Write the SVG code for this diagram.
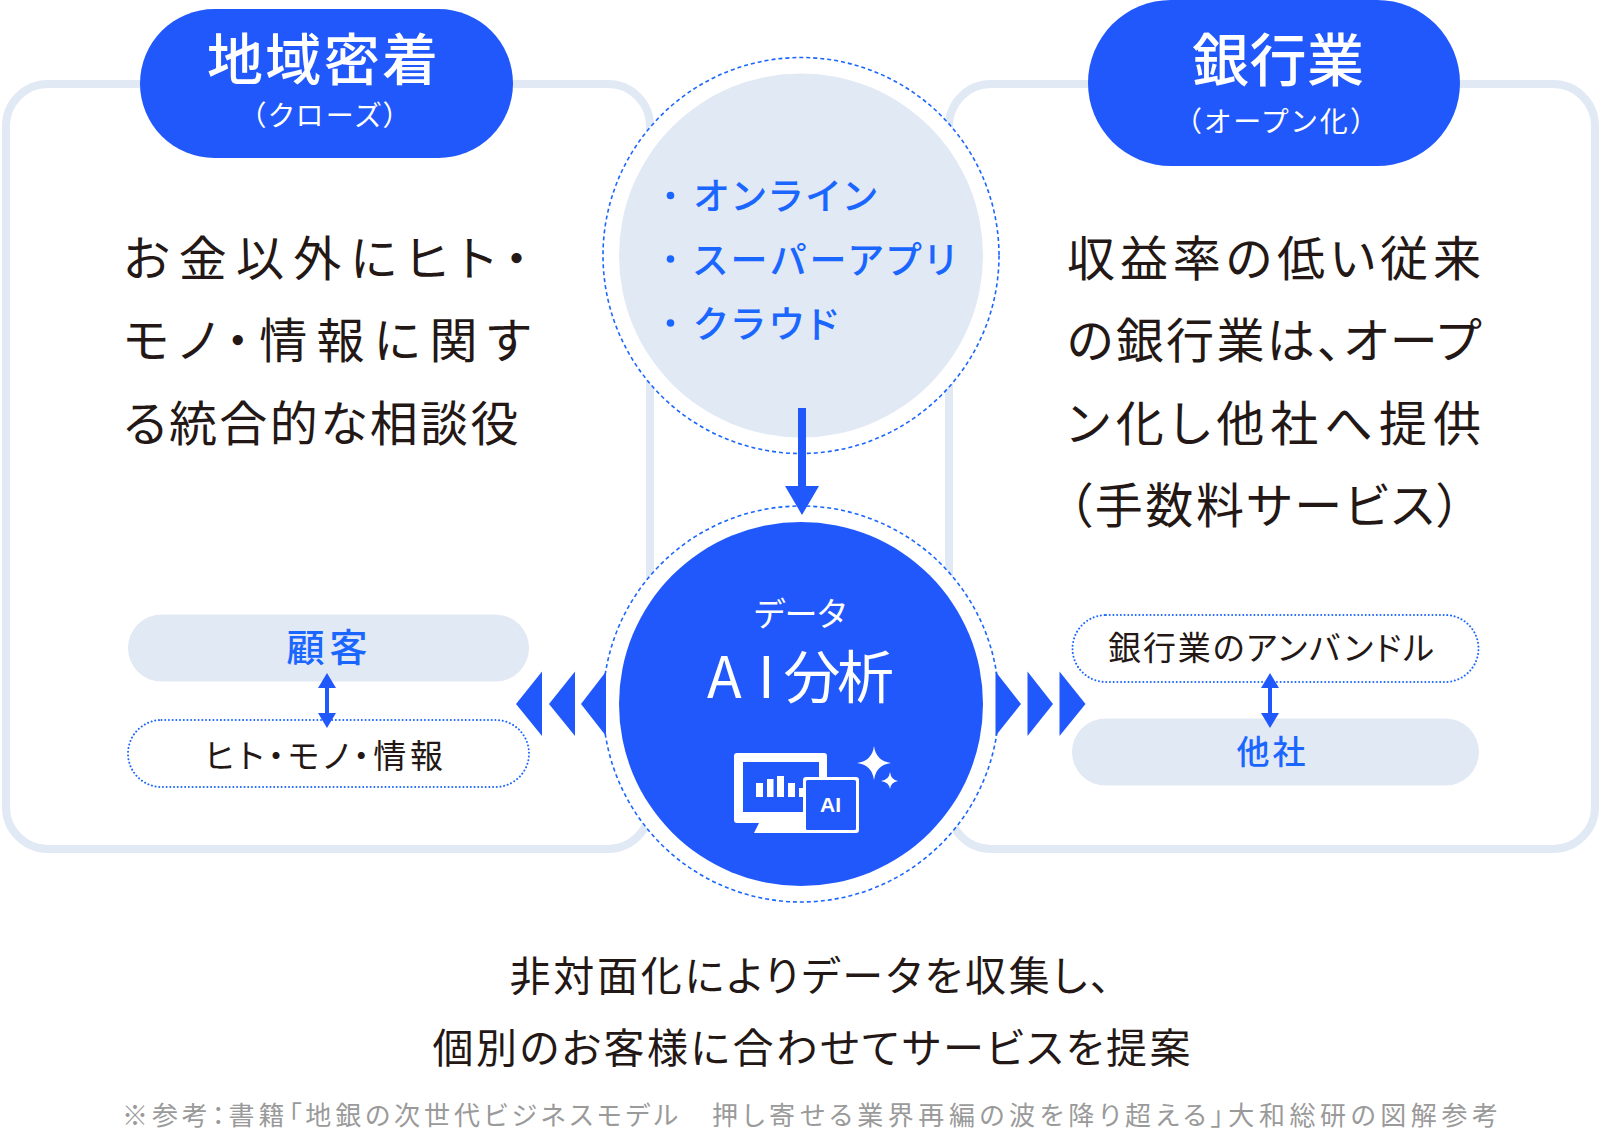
<svg xmlns="http://www.w3.org/2000/svg" width="1600" height="1129" viewBox="0 0 1600 1129">
<style>
text{font-family:"Noto Sans CJK JP","Noto Sans",sans-serif;font-feature-settings:"palt";}
.frame{fill:#fff;stroke:#e1e9f5;stroke-width:8;}
.pale{fill:#e1e9f5;}
.blue{fill:#2158fb;}
.ring{fill:#fff;stroke:#1a66ff;stroke-width:1.6;stroke-dasharray:4 3;}
.dots{fill:#fff;stroke:#1a66ff;stroke-width:2;stroke-dasharray:0.01 3.7;stroke-linecap:round;}
.dark{fill:#231815;}
.tb{fill:#1a66ff;}
.w{fill:#fff;}
.para{font-size:48px;}
.mid{text-anchor:middle;}
.m{font-weight:500;}
</style>
<rect width="1600" height="1129" fill="#fff"/>
<g id="frame-left"><rect class="frame" x="6" y="84" width="644" height="765" rx="42"/></g>
<g id="frame-right"><rect class="frame" x="949" y="84" width="646" height="765" rx="42"/></g>

<g id="pill-chiiki">
<rect class="blue" x="140" y="9" width="373" height="149" rx="74.500"/>
<text class="w mid m" x="322.500" y="80" font-size="56" textLength="231">地域密着</text>
<text class="w mid" x="324.500" y="126" font-size="28" textLength="146">（クローズ）</text>
</g>
<g id="pill-ginko">
<rect class="blue" x="1088" y="0" width="372" height="166" rx="83"/>
<text class="w mid m" x="1278" y="81" font-size="57" textLength="172">銀行業</text>
<text class="w mid" x="1276" y="132" font-size="28" textLength="178">（オープン化）</text>
</g>

<g id="para-left">
<text class="dark para" x="123.500" y="276" textLength="405">お金以外にヒト・</text>
<text class="dark para" x="123.500" y="358" textLength="407">モノ・情報に関す</text>
<text class="dark para" x="123.500" y="441" textLength="395">る統合的な相談役</text>
</g>
<g id="para-right">
<text class="dark para" x="1067" y="276" textLength="414">収益率の低い従来</text>
<text class="dark para" x="1067" y="358" textLength="414">の銀行業は、オープ</text>
<text class="dark para" x="1067" y="441" textLength="414">ン化し他社へ提供</text>
<text class="dark para" x="1068" y="523" textLength="393">（手数料サービス）</text>
</g>

<g id="circle-top">
<circle class="ring" cx="801" cy="255.500" r="198"/>
<circle class="pale" cx="801" cy="255.500" r="182"/>
<circle class="tb" cx="670.500" cy="195.500" r="3.800"/>
<circle class="tb" cx="670.500" cy="259" r="3.800"/>
<circle class="tb" cx="670.500" cy="323" r="3.800"/>
<text class="tb m" x="693.500" y="210" font-size="37" textLength="183">オンライン</text>
<text class="tb m" x="693.500" y="274" font-size="37" textLength="262">スーパーアプリ</text>
<text class="tb m" x="693.500" y="338" font-size="37" textLength="144">クラウド</text>
</g>

<g id="circle-bottom">
<circle class="ring" cx="801" cy="704" r="198"/>
<circle class="blue" cx="801" cy="704" r="182"/>
<text class="w mid" x="800" y="626" font-size="33" textLength="92">データ</text>
<text class="w" x="707 758 783.500 837" y="698" font-size="57">AI分析</text>
<g id="icon-ai">
<path class="w" fill-rule="evenodd" d="M737,753H824Q827,753 827,756V820Q827,823 824,823H737Q734,823 734,820V756Q734,753 737,753ZM743,762V812H819V762Z"/>
<polygon class="w" points="759,823 810,823 810,833 754,833"/>
<rect class="w" x="756" y="783" width="7" height="14"/><rect class="w" x="767" y="779" width="6.500" height="18"/><rect class="w" x="777" y="776" width="7" height="21"/><rect class="w" x="788" y="783" width="7" height="14"/><rect class="w" x="799" y="788" width="6" height="9"/>
<rect x="803" y="777" width="56" height="56" rx="3" class="w"/>
<rect x="806" y="780" width="50" height="50" rx="1.500" class="blue"/>
<text class="w mid" x="830.500" y="812" font-size="21" font-weight="700" style="font-family:'Liberation Sans',sans-serif">AI</text>
<path class="w" d="M874,746 Q876,761 891,763 Q876,765 874,780 Q872,765 857,763 Q872,761 874,746Z"/>
<path class="w" d="M890,772 Q891,780 898,781 Q891,782 890,789 Q889,782 881,781 Q889,780 890,772Z"/>
</g>
</g>

<g id="pill-kokyaku">
<rect class="pale" x="128" y="614.500" width="401" height="67" rx="33.500"/>
<text class="tb mid m" x="327" y="661" font-size="38" textLength="81">顧客</text>
</g>
<g id="pill-hito">
<rect class="dots" x="128" y="720" width="401" height="67" rx="33.500"/>
<text class="dark mid" x="324" y="768" font-size="33" textLength="238">ヒト・モノ・情報</text>
</g>
<g id="pill-unbundle">
<rect class="dots" x="1072.500" y="615" width="406" height="67" rx="33.500"/>
<text class="dark mid" x="1271" y="659.500" font-size="33" textLength="326">銀行業のアンバンドル</text>
</g>
<g id="pill-tasha">
<rect class="pale" x="1072" y="718.500" width="407" height="67" rx="33.500"/>
<text class="tb mid m" x="1271" y="764" font-size="33" textLength="69">他社</text>
</g>

<g id="connectors">
<polygon class="blue" points="798,408 806,408 806,486 819,486 802,515 785,486 798,486"/>
<g class="blue">
<polygon points="516,704 542,671.500 542,736"/><polygon points="549,704 575,671.500 575,736"/><polygon points="581,704 606,671.500 606,736"/>
<polygon points="1021,704 995.500,671.500 995.500,736"/><polygon points="1053,704 1027.500,671.500 1027.500,736"/><polygon points="1085.500,704 1059.500,671.500 1059.500,736"/>
<polygon points="327,673 336,688 329,688 329,713 336,713 327,728 318,713 325,713 325,688 318,688"/>
<polygon points="1270,673 1279,688 1272,688 1272,713 1279,713 1270,728 1261,713 1268,713 1268,688 1261,688"/>
</g>
</g>

<g id="caption">
<text class="dark mid" x="810" y="991" font-size="41" textLength="601">非対面化によりデータを収集し、</text>
<text class="dark mid" x="811.500" y="1062.500" font-size="41" textLength="758">個別のお客様に合わせてサービスを提案</text>
<text y="1124.500" font-size="26" fill="#9a9a9a"><tspan x="122" textLength="586">※参考：書籍「地銀の次世代ビジネスモデル　</tspan><tspan x="712" textLength="786">押し寄せる業界再編の波を降り超える」大和総研の図解参考</tspan></text>
</g>
</svg>
